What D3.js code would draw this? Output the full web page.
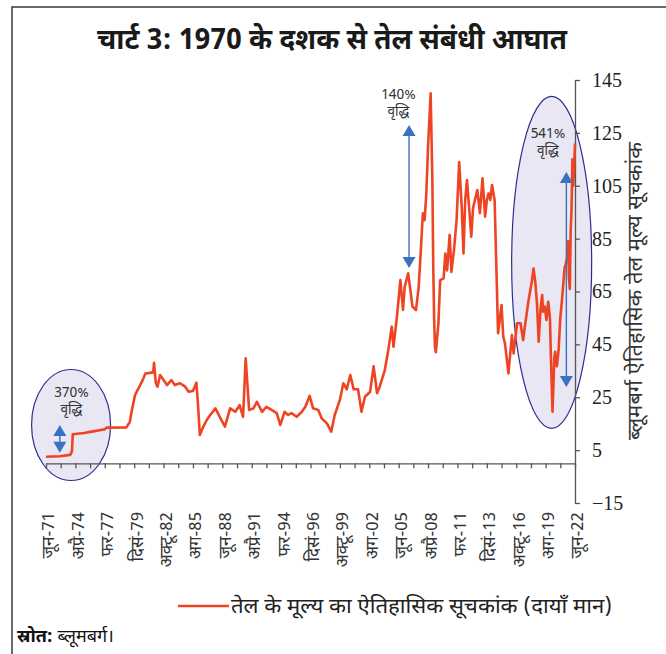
<!DOCTYPE html>
<html><head><meta charset="utf-8">
<script src="https://cdn.jsdelivr.net/npm/d3@7"></script>
<style>body{margin:0;background:#fff} svg{display:block}</style>
</head><body><svg id="c" width="666" height="654"></svg>
<script>
const titleText = "चार्ट 3: 1970 के दशक से तेल संबंधी आघात";
const seriesName = "तेल के मूल्य का ऐतिहासिक सूचकांक (दायाँ मान)";
const yAxisTitle = "ब्लूमबर्ग ऐतिहासिक तेल मूल्य सूचकांक";
const sourceLabel = "स्रोत:";
const sourceText = " ब्लूमबर्ग।";
const tickLabels = ["जून-71","अप्रै-74","फर-77","दिसं-79","अक्टू-82","अग-85","जून-88","अप्रै-91","फर-94","दिसं-96","अक्टू-99","अग-02","जून-05","अप्रै-08","फर-11","दिसं-13","अक्टू-16","अग-19","जून-22"];
const yTicks = [-15,5,25,45,65,85,105,125,145];
const dates = ["1971-06","1972-10","1973-10","1973-12","1974-01","1975-02","1975-11","1977-02","1977-04","1979-03","1979-07","1979-09","1980-01","1980-05","1980-09","1981-01","1981-10","1981-11","1982-01","1982-03","1982-06","1982-10","1983-02","1983-07","1983-11","1984-05","1984-11","1985-03","1985-08","1985-12","1986-02","1986-04","1986-08","1986-12","1987-04","1987-10","1988-03","1988-09","1989-03","1989-09","1990-02","1990-06","1990-09","1991-01","1991-06","1991-10","1992-04","1992-09","1993-03","1993-09","1994-01","1994-06","1994-10","1995-02","1995-08","1996-02","1996-06","1996-11","1997-03","1997-09","1998-01","1998-07","1998-12","1999-04","1999-10","2000-02","2000-06","2000-10","2001-02","2001-07","2001-11","2002-03","2002-09","2003-01","2003-05","2003-08","2004-02","2004-06","2004-10","2004-12","2005-04","2005-08","2005-11","2006-01","2006-05","2006-10","2007-02","2007-05","2007-07","2007-10","2007-12","2008-02","2008-04","2008-07","2008-09","2008-10","2008-11","2008-12","2009-01","2009-04","2009-06","2009-10","2009-12","2010-02","2010-05","2010-07","2010-10","2011-01","2011-04","2011-07","2011-09","2011-11","2012-01","2012-04","2012-06","2012-08","2013-01","2013-04","2013-07","2013-10","2013-12","2014-02","2014-04","2014-06","2014-09","2014-11","2015-01","2015-05","2015-07","2015-09","2016-01","2016-05","2016-07","2016-11","2017-03","2017-06","2017-08","2017-12","2018-04","2018-06","2018-08","2018-10","2018-12","2019-02","2019-04","2019-05","2019-07","2019-09","2019-11","2020-01","2020-02","2020-04","2020-06","2020-07","2020-09","2020-11","2021-01","2021-03","2021-05","2021-06","2021-07","2021-09","2021-10","2021-11","2021-12","2022-01","2022-02","2022-03","2022-04","2022-05","2022-06"];
const values = [2.5,2.7,3.2,4.5,11.0,11.5,12.0,12.9,13.5,13.6,15.7,19.5,25.8,28.4,30.9,34.0,34.4,38.0,30.5,29.0,33.4,31.5,29.6,31.5,29.6,30.3,29.0,27.1,27.4,30.5,21.4,10.7,13.9,16.4,18.3,20.8,17.6,13.9,20.8,19.5,22.0,17.6,39.7,20.2,20.8,23.3,19.5,21.4,20.2,19.0,14.5,19.5,18.3,19.0,17.6,19.5,21.4,25.5,20.8,20.2,17.0,15.1,12.0,18.3,24.0,30.3,28.0,33.4,28.0,28.0,19.5,25.2,27.1,36.7,26.5,28.9,35.3,42.9,51.7,44.1,55.5,69.3,58.0,66.8,71.9,59.3,58.0,66.2,76.9,94.6,92.0,102.0,119.8,140.0,107.0,75.0,55.0,44.0,42.0,53.0,69.3,70.0,79.4,73.0,86.4,72.4,80.7,92.0,114.0,96.5,79.4,99.6,107.2,94.6,85.7,96.5,103.4,94.6,107.8,93.3,99.6,102.1,99.6,105.3,99.6,74.4,49.2,59.9,47.9,45.4,34.0,48.5,41.6,53.0,53.0,46.6,51.7,61.1,68.7,73.7,68.7,60.5,46.0,58.0,63.7,57.4,59.3,54.2,61.1,55.0,41.6,19.5,39.4,42.2,36.7,42.7,55.0,62.0,70.0,74.0,75.0,78.0,84.0,70.0,66.0,88.0,96.0,115.0,105.0,112.0,121.0];
const growthLabels = ["370%","140%","541%"];
const growthWord = "वृद्धि";
const arrowDates = ["1972-10","2006-06","2021-08"];
const arrowFrom = [4.0,73.9,28.9];
const arrowTo = [14.5,128.0,110.2];

const FONT = "'Noto Sans Devanagari','Noto Sans','Liberation Sans',sans-serif";
const RED = "#ef4423", BLUE = "#3a72c0", NAVY = "#2b2f8f";

const svg = d3.select("#c");
const parseM = s => { const [yy, mm] = s.split("-").map(Number); return (yy - 1971) * 12 + (mm - 6); };
const x = d3.scaleLinear().domain([0, 612]).range([46, 575]);
const y = d3.scaleLinear().domain([-15, 145]).range([503, 80]);
const data = dates.map((d, i) => ({ m: parseM(d), v: values[i] }));

// frame
svg.append("path").attr("d", "M12,654V7H666").attr("fill", "none").attr("stroke", "#3a3a3a").attr("stroke-width", 1.5);

// title
svg.append("text").attr("x", 332).attr("y", 49).attr("text-anchor", "middle")
  .attr("font-family", FONT).attr("font-weight", "bold").attr("font-size", 29).attr("fill", "#1a1a1a")
  .attr("textLength", 470).attr("lengthAdjust", "spacingAndGlyphs").text(titleText);

// ellipses
svg.append("ellipse").attr("cx", x(parseM("1973-11"))).attr("cy", y(14.5)).attr("rx", 39.5).attr("ry", 55.5)
  .attr("fill", "#e8e7f3").attr("stroke", NAVY).attr("stroke-width", 1.2);
svg.append("ellipse").attr("cx", x(parseM("2020-03"))).attr("cy", y(76)).attr("rx", 40).attr("ry", 166)
  .attr("fill", "#e8e7f3").attr("stroke", NAVY).attr("stroke-width", 1.2);

// x axis (at zero)
const xAxis = svg.append("g").attr("transform", `translate(0,${y(0)})`)
  .call(d3.axisBottom(x).tickValues(d3.range(0, 613, 17)).tickSize(5).tickSizeOuter(0).tickFormat(""));
xAxis.selectAll("path,line").attr("stroke", "#555").attr("stroke-width", 1.3);

// x labels
const xl = svg.append("g").attr("transform", "translate(2,512)")
  .call(d3.axisBottom(x).tickValues(d3.range(0, 613, 34)).tickSize(0).tickFormat((d, i) => tickLabels[i]));
xl.select(".domain").remove();
xl.selectAll("text").attr("transform", "rotate(-90)").attr("text-anchor", "end")
  .attr("x", 0).attr("y", 0).attr("dy", "0.35em")
  .attr("font-family", FONT).attr("font-size", 17).attr("fill", "#333");

// y axis right
const yAxis = svg.append("g").attr("transform", "translate(575,0)")
  .call(d3.axisRight(y).tickValues(yTicks).tickSize(5).tickSizeOuter(0).tickPadding(12));
yAxis.selectAll("path,line").attr("stroke", "#555").attr("stroke-width", 1.3);
yAxis.selectAll("text").attr("font-family", "'Liberation Serif',serif").attr("font-size", 20).attr("fill", "#222");

// y title
svg.append("text").attr("transform", "translate(635,291) rotate(-90)").attr("text-anchor", "middle").attr("dy", "0.35em")
  .attr("font-family", FONT).attr("font-size", 20).attr("fill", "#333")
  .attr("textLength", 298).attr("lengthAdjust", "spacingAndGlyphs").text(yAxisTitle);

// line
svg.append("path").datum(data).attr("fill", "none").attr("stroke", RED).attr("stroke-width", 2.6)
  .attr("stroke-linejoin", "round")
  .attr("d", d3.line().x(d => x(d.m)).y(d => y(d.v)));

// arrows
function arrowHead(cx, cy, dir) {
  const w = 6.5, h = 11;
  return `M${cx},${cy}L${cx - w},${cy - dir * h}L${cx + w},${cy - dir * h}Z`;
}
arrowDates.forEach((d, i) => {
  const ax = x(parseM(d)), y1 = y(arrowFrom[i]), y2 = y(arrowTo[i]);
  svg.append("line").attr("x1", ax).attr("x2", ax).attr("y1", y1 - 8).attr("y2", y2 + 8)
    .attr("stroke", BLUE).attr("stroke-width", 1.4);
  svg.append("path").attr("d", arrowHead(ax, y1, 1)).attr("fill", BLUE);
  svg.append("path").attr("d", arrowHead(ax, y2, -1)).attr("fill", BLUE);
});

// growth labels
const labelPos = [[71.5, 397], [398.5, 99], [548, 138]];
growthLabels.forEach((t, i) => {
  const g = svg.append("g").attr("font-family", FONT).attr("font-size", 14).attr("fill", "#333").attr("text-anchor", "middle");
  g.append("text").attr("x", labelPos[i][0]).attr("y", labelPos[i][1]).text(t);
  g.append("text").attr("x", labelPos[i][0]).attr("y", labelPos[i][1] + 17).attr("font-size", 13.5).text(growthWord);
});

// legend
svg.append("line").attr("x1", 178).attr("x2", 229).attr("y1", 606).attr("y2", 606).attr("stroke", RED).attr("stroke-width", 2.6);
svg.append("text").attr("x", 231).attr("y", 613).attr("font-family", FONT).attr("font-size", 20).attr("fill", "#222")
  .attr("textLength", 381).attr("lengthAdjust", "spacingAndGlyphs").text(seriesName);

// source
const src = svg.append("text").attr("x", 17).attr("y", 642).attr("font-family", FONT).attr("font-size", 18).attr("fill", "#111");
src.append("tspan").attr("font-weight", "bold").text(sourceLabel);
src.append("tspan").text(sourceText);
</script></body></html>
